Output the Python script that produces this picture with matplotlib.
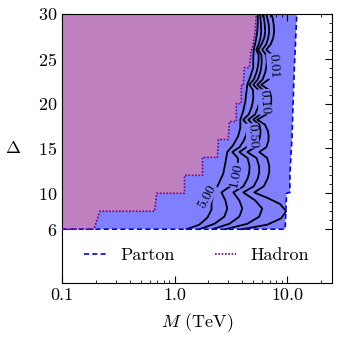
import matplotlib
matplotlib.use("Agg")
import matplotlib.pyplot as plt
import matplotlib.ticker as ticker

# フォント設定 (Computer Modern風)
plt.rcParams["font.family"] = "serif"
plt.rcParams["font.serif"] = ["cmr10"]
plt.rcParams["mathtext.fontset"] = "cm"
plt.rcParams["axes.unicode_minus"] = False
plt.rcParams["axes.formatter.use_mathtext"] = True

# Parton領域の境界 (M [TeV], Delta)
parton_m = [0.1, 9.6, 9.75, 9.9, 10.6, 10.6, 10.9, 11.05, 11.3, 11.6, 12.0, 12.2]
parton_d = [6, 6, 8, 10.0, 10.1, 12, 14.9, 16, 20, 24, 28, 30]

# Hadron領域の境界
hadron_m = [0.1, 0.192, 0.217, 0.665, 0.693, 1.225, 1.225, 1.77, 1.77, 2.40, 2.45,
            3.00, 3.07, 3.54, 3.54, 3.92, 3.92, 4.08, 4.16, 4.61, 4.80, 4.90, 5.21, 5.32]
hadron_d = [6, 6, 8, 8, 10, 10, 12, 12, 14, 14, 16,
            16, 18, 18, 20, 20, 22, 22, 24, 24, 26, 26, 28, 30]

# 等高線 (レベルごと)
line_500_d = [6, 6.5, 7.3, 8.2, 9.0, 10.1, 11.0, 12.2, 13.4, 14.6, 15.4, 16.4, 17.3,
              18.2, 19.2, 20.2, 21.2, 22.1, 23.0, 24.0, 25.0, 26.0, 27.0, 28.0, 29.0, 30]
line_500_m = [1.28, 1.66, 1.96, 2.13, 2.13, 2.26, 2.45, 2.71, 2.83, 2.94, 3.33, 3.68, 3.84,
              3.84, 4.08, 4.25, 4.34, 4.43, 4.71, 5.00, 5.00, 5.05, 5.27, 5.43, 5.49, 5.49]

wave_d = [6, 6.6, 7.4, 8.3, 9.2, 10.1,
          10.78, 11.68, 12.35, 13.03, 13.93, 14.6,
          15.14, 15.86, 16.4, 16.94, 17.66, 18.2,
          18.79, 19.57, 20.15, 20.74, 21.52, 22.1,
          22.69, 23.47, 24.05, 24.64, 25.42, 26.0,
          26.6, 27.3, 28.0, 28.8, 29.5, 30]
line_100_m = [1.66, 2.26, 2.77, 2.94, 2.83, 2.61,
              3.12, 3.43, 3.58, 3.66, 3.65, 3.26,
              3.78, 4.12, 4.29, 4.41, 4.43, 4.08,
              4.56, 4.83, 4.95, 5.01, 4.97, 4.61,
              5.06, 5.34, 5.48, 5.57, 5.59, 5.32,
              5.59, 5.80, 5.89, 5.86, 5.80, 5.77]
line_050_m = [2.17, 3.07, 3.76, 4.00, 3.76, 3.33,
              4.09, 4.47, 4.61, 4.64, 4.45, 3.76,
              4.37, 4.72, 4.90, 4.99, 4.97, 4.52,
              5.19, 5.51, 5.65, 5.69, 5.57, 5.00,
              5.49, 5.77, 5.89, 5.95, 5.91, 5.54,
              5.92, 6.26, 6.39, 6.33, 6.23, 6.13]
line_010_m = [2.83, 4.43, 5.65, 6.01, 5.21, 4.08,
              5.06, 5.50, 5.65, 5.64, 5.35, 4.43,
              5.21, 5.60, 5.77, 5.81, 5.67, 5.00,
              5.77, 6.13, 6.26, 6.28, 6.10, 5.43,
              6.06, 6.39, 6.52, 6.59, 6.51, 6.01,
              6.52, 6.79, 6.93, 6.87, 6.68, 6.52]

line_001_d = [6, 6.5, 7.2, 8.0, 8.8, 9.5] + wave_d[5:]
line_001_m = [4.00, 6.65, 8.84, 9.80, 8.67, 6.65, 5.10,
              6.21, 6.73, 6.93, 6.94, 6.66, 5.65,
              6.54, 6.83, 6.86, 6.75, 6.36, 5.43,
              6.53, 7.04, 7.22, 7.22, 6.91, 5.89,
              6.86, 7.34, 7.52, 7.57, 7.37, 6.52,
              7.14, 7.52, 7.67, 7.60, 7.45, 7.22]

# ラベル (テキスト, M, Delta, 角度)
contour_labels = [("5.00", 1.96, 9.67, 62),
                  ("1.00", 3.55, 12.0, 78),
                  ("0.50", 4.90, 16.4, -86),
                  ("0.10", 6.26, 20.2, -86),
                  ("0.01", 7.52, 24.2, -86)]

x_ticks = [0.1, 1.0, 10.0]
x_tick_labels = ["0.1", "1.0", "10.0"]
y_ticks = [6, 10, 15, 20, 25, 30]

blue_fill = "#8080ff"
purple_fill = "#bf80bf"

fig = plt.figure(figsize=(3.39, 3.46), dpi=100)
ax = fig.add_axes([0.183, 0.182, 0.796, 0.778])

# 領域の塗りつぶし
ax.fill(parton_m + [0.1], parton_d + [30], color=blue_fill, lw=0, zorder=1)
ax.fill(hadron_m + [0.1], hadron_d + [30], color=purple_fill, lw=0, zorder=2)

# 等高線
for m, d in [(line_500_m, line_500_d), (line_100_m, wave_d), (line_050_m, wave_d),
             (line_010_m, wave_d), (line_001_m, line_001_d)]:
    ax.plot(m, d, color="black", lw=1.3, zorder=3, solid_joinstyle="round")

for txt, m, d, rot in contour_labels:
    ax.text(m, d, txt, fontsize=10, rotation=rot, ha="center", va="center",
            rotation_mode="anchor", zorder=4,
            bbox=dict(facecolor=blue_fill, edgecolor="none", pad=0.2))

# 境界線
ax.plot(parton_m, parton_d, color="blue", ls=(0, (3, 2)), lw=1.2, zorder=5, label="Parton")
ax.plot(hadron_m, hadron_d, color="purple", ls=(0, (1, 1)), lw=1.2, zorder=6, label="Hadron")

ax.set_xscale("log")
ax.set_xlim(0.1, 25)
ax.set_ylim(0, 30)
ax.set_xticks(x_ticks)
ax.set_xticklabels(x_tick_labels)
ax.set_yticks(y_ticks)
ax.yaxis.set_minor_locator(ticker.FixedLocator(list(range(7, 30))))
ax.tick_params(which="both", direction="in", top=True, right=True, labelsize=13)
ax.tick_params(which="major", length=5)
ax.tick_params(which="minor", length=2.5)

ax.set_xlabel(r"$M$ (TeV)", fontsize=13, labelpad=6)
ax.set_ylabel(r"$\Delta$", fontsize=13, rotation=0, labelpad=18, va="center")

ax.legend(loc="center", bbox_to_anchor=(0.5, 0.104), ncol=2, frameon=False,
          fontsize=13, handlelength=1.2, handletextpad=0.8, columnspacing=2.2)

fig.savefig("out.png", dpi=100)
